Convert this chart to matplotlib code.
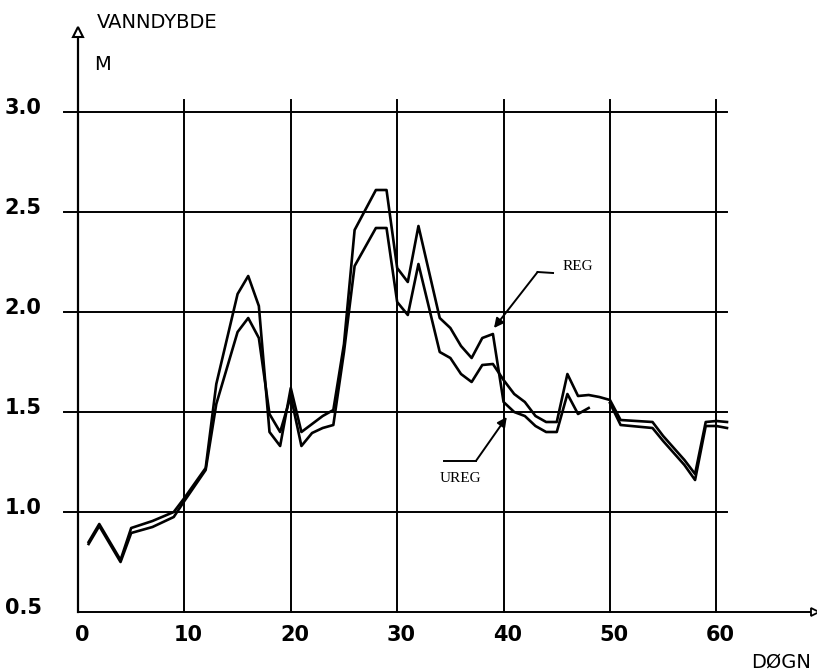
import matplotlib
matplotlib.use("Agg")
import matplotlib.pyplot as plt
import numpy as np

# water depth (m) per day at the breakpoints
days = [1, 2, 4, 5, 7, 9, 10, 12, 13, 15, 16, 17, 18, 19, 20, 21, 22, 23, 24,
        25, 26, 28, 29, 30, 31, 32, 34, 35, 36, 37, 38, 39, 40, 41, 42, 43,
        44, 45, 46, 47, 48, 49, 50, 51, 54, 55, 57, 58, 59, 60, 61]
reg = [0.85, 0.94, 0.76, 0.92, 0.955, 1.0, 1.07, 1.22, 1.64, 2.09, 2.18,
       2.03, 1.40, 1.33, 1.62, 1.40, 1.44, 1.48, 1.51, 1.84, 2.41, 2.61, 2.61,
       2.22, 2.15, 2.43, 1.97, 1.92, 1.83, 1.77, 1.87, 1.89, 1.55, 1.50, 1.48,
       1.43, 1.40, 1.40, 1.59, 1.49, 1.52, np.nan, 1.545, 1.435, 1.42, 1.355,
       1.235, 1.16, 1.43, 1.43, 1.42]
ureg = [0.84, 0.93, 0.75, 0.895, 0.925, 0.975, 1.055, 1.21, 1.54, 1.90, 1.97,
        1.87, 1.49, 1.40, 1.58, 1.33, 1.395, 1.42, 1.435, 1.80, 2.23, 2.42,
        2.42, 2.05, 1.985, 2.24, 1.80, 1.77, 1.69, 1.65, 1.735, 1.74, 1.66,
        1.59, 1.55, 1.48, 1.45, 1.45, 1.69, 1.58, 1.585, 1.575, 1.56, 1.46,
        1.45, 1.38, 1.26, 1.19, 1.45, 1.455, 1.45]

x_ticks = [0, 10, 20, 30, 40, 50, 60]
y_ticks = [0.5, 1.0, 1.5, 2.0, 2.5, 3.0]

fig = plt.figure(figsize=(8.17, 6.72), dpi=100)
ax = fig.add_axes([0, 0, 1, 1])
ax.set_xlim(-7.33, 69.46)
ax.set_ylim(0.2, 3.56)
ax.axis("off")

# grid
for v in y_ticks[1:]:
    ax.plot([-1.3, 61], [v, v], color="k", lw=1.4)
for d in x_ticks[1:]:
    ax.plot([d, d], [0.5, 3.06], color="k", lw=1.4)

# axes with open arrow heads
ax.plot([0, 69.2], [0.5, 0.5], color="k", lw=1.4)
ax.plot([0, 0], [0.5, 3.38], color="k", lw=1.6)
ax.plot(0, 3.40, marker="^", ms=7, mfc="white", mec="k", mew=1.5)
ax.plot(69.3, 0.5, marker=">", ms=6, mfc="white", mec="k", mew=1.3)

# curves
ax.plot(days, reg, color="k", lw=1.9)
ax.plot(days, ureg, color="k", lw=1.9)

lab = dict(family="DejaVu Sans", fontweight="bold", fontsize=15, color="k")
for v in y_ticks:
    ax.text(-6.9, v + 0.02, f"{v:.1f}", ha="left", va="center", **lab)
for d in x_ticks:
    ax.text(d + 0.4, 0.385, str(d), ha="center", va="center", **lab)

txt = dict(family="DejaVu Sans", fontsize=14, color="k")
ax.text(1.8, 3.45, "VANNDYBDE", ha="left", va="center", **txt)
ax.text(1.5, 3.235, "M", ha="left", va="center", **txt)
ax.text(66.1, 0.25, "DØGN", ha="center", va="center", **txt)

# labelled pointers
ser = dict(family="Liberation Serif", fontsize=11, color="k")
ax.text(45.5, 2.23, "REG", ha="left", va="center", **ser)
ax.plot([44.65, 43.2], [2.195, 2.2], color="k", lw=1.4)
ax.annotate("", xy=(39.1, 1.92), xytext=(43.2, 2.2),
            arrowprops=dict(arrowstyle="-|>", color="k", lw=1.4,
                            mutation_scale=14, shrinkA=0, shrinkB=0))

ax.text(34.0, 1.17, "UREG", ha="left", va="center", **ser)
ax.plot([34.4, 37.4], [1.255, 1.255], color="k", lw=1.4)
ax.annotate("", xy=(40.3, 1.475), xytext=(37.4, 1.255),
            arrowprops=dict(arrowstyle="-|>", color="k", lw=1.4,
                            mutation_scale=14, shrinkA=0, shrinkB=0))

fig.savefig("out.png", dpi=100)
